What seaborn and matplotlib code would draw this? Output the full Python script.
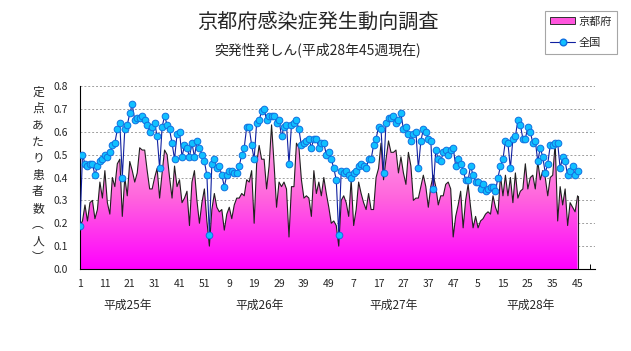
# %% ---- Requirements and constants
import numpy as np
import pandas as pd
import seaborn as sns
import matplotlib.pyplot as plt
from matplotlib.colors import LinearSegmentedColormap
from matplotlib.patches import Patch, PathPatch
from matplotlib.lines import Line2D

title = '京都府感染症発生動向調査'
subtitle = '突発性発しん(平成28年45週現在)'
ylabel_chars = ['定', '点', 'あ', 'た', 'り', '患', '者', '数', '︵', '人', '︶']
series_names = ['京都府', '全国']
year_labels = ['平成25年', '平成26年', '平成27年', '平成28年']
weeks_in_year = [52, 52, 52, 52]

# 京都府 (per sentinel), H25 w1 .. H28 w45
kyoto = [
    0.19, 0.21, 0.28, 0.21, 0.29, 0.30, 0.22, 0.26, 0.38, 0.31,
    0.43, 0.29, 0.24, 0.40, 0.36, 0.46, 0.48, 0.23, 0.40, 0.32,
    0.47, 0.43, 0.38, 0.42, 0.53, 0.52, 0.52, 0.43, 0.35, 0.35,
    0.40, 0.44, 0.31, 0.42, 0.52, 0.50, 0.40, 0.31, 0.45, 0.36,
    0.39, 0.29, 0.31, 0.34, 0.19, 0.38, 0.43, 0.30, 0.20, 0.29,
    0.35, 0.21,
    0.10, 0.26, 0.33, 0.27, 0.25, 0.26, 0.17, 0.24, 0.27, 0.22,
    0.28, 0.31, 0.31, 0.33, 0.32, 0.39, 0.38, 0.43, 0.20, 0.46,
    0.54, 0.48, 0.48, 0.35, 0.45, 0.63, 0.46, 0.27, 0.38, 0.36,
    0.38, 0.35, 0.14, 0.36, 0.36, 0.55, 0.53, 0.39, 0.31, 0.32,
    0.31, 0.23, 0.43, 0.33, 0.38, 0.32, 0.40, 0.33, 0.27, 0.20,
    0.21, 0.19,
    0.10, 0.30, 0.32, 0.29, 0.23, 0.39, 0.19, 0.26, 0.38, 0.33,
    0.29, 0.26, 0.33, 0.26, 0.26, 0.40, 0.44, 0.55, 0.39, 0.48,
    0.56, 0.51, 0.51, 0.52, 0.42, 0.49, 0.42, 0.37, 0.51, 0.45,
    0.30, 0.31, 0.31, 0.36, 0.41, 0.36, 0.27, 0.36, 0.41, 0.36,
    0.28, 0.32, 0.32, 0.37, 0.38, 0.35, 0.14, 0.23, 0.28, 0.34,
    0.18, 0.30,
    0.37, 0.27, 0.18, 0.23, 0.18, 0.21, 0.22, 0.24, 0.25, 0.24,
    0.32, 0.27, 0.24, 0.41, 0.32, 0.41, 0.32, 0.40, 0.29, 0.42,
    0.31, 0.34, 0.35, 0.46, 0.35, 0.40, 0.41, 0.35, 0.47, 0.39,
    0.43, 0.40, 0.32, 0.40, 0.41, 0.55, 0.21, 0.36, 0.28, 0.35,
    0.19, 0.29, 0.27, 0.25, 0.32,
]

# 全国 (per sentinel)
zenkoku = [
    0.19, 0.50, 0.46, 0.45, 0.46, 0.46, 0.41, 0.45, 0.47, 0.48,
    0.50, 0.49, 0.51, 0.54, 0.55, 0.61, 0.64, 0.40, 0.61, 0.63,
    0.68, 0.72, 0.65, 0.66, 0.66, 0.67, 0.65, 0.63, 0.60, 0.62,
    0.64, 0.58, 0.44, 0.62, 0.67, 0.63, 0.61, 0.55, 0.48, 0.59,
    0.60, 0.49, 0.54, 0.53, 0.49, 0.55, 0.49, 0.56, 0.53, 0.50,
    0.47, 0.41,
    0.15, 0.46, 0.48, 0.44, 0.45, 0.41, 0.36, 0.41, 0.43, 0.43,
    0.42, 0.42, 0.45, 0.50, 0.53, 0.62, 0.62, 0.54, 0.48, 0.64,
    0.65, 0.69, 0.70, 0.65, 0.67, 0.67, 0.67, 0.64, 0.65, 0.58,
    0.62, 0.63, 0.46, 0.63, 0.64, 0.65, 0.61, 0.54, 0.55, 0.56,
    0.57, 0.53, 0.57, 0.57, 0.53, 0.55, 0.55, 0.50, 0.51, 0.48,
    0.44, 0.39,
    0.15, 0.43, 0.42, 0.43, 0.41, 0.40, 0.42, 0.43, 0.45, 0.46,
    0.45, 0.44, 0.48, 0.48, 0.54, 0.57, 0.62, 0.61, 0.42, 0.64,
    0.66, 0.66, 0.67, 0.64, 0.65, 0.68, 0.61, 0.62, 0.59, 0.56,
    0.59, 0.60, 0.44, 0.56, 0.61, 0.60, 0.57, 0.56, 0.35, 0.52,
    0.48, 0.47, 0.51, 0.52, 0.50, 0.52, 0.53, 0.45, 0.48, 0.46,
    0.43, 0.39,
    0.39, 0.45, 0.41, 0.38, 0.38, 0.35, 0.37, 0.34, 0.35, 0.36,
    0.36, 0.34, 0.40, 0.45, 0.48, 0.56, 0.55, 0.44, 0.57, 0.58,
    0.65, 0.63, 0.57, 0.57, 0.62, 0.60, 0.55, 0.56, 0.47, 0.53,
    0.49, 0.42, 0.46, 0.54, 0.54, 0.55, 0.55, 0.44, 0.49, 0.47,
    0.41, 0.43, 0.45, 0.41, 0.43,
]

# year label centres, in week index units
year_label_pos = [19, 72, 126, 181]

font = ['Noto Sans CJK JP', 'DejaVu Sans']


# %% ---- Data frame
week_no = np.concatenate([np.arange(1, w + 1) for w in weeks_in_year])
n_all = len(week_no)
n = len(kyoto)
df = pd.DataFrame({'idx': np.arange(n), 'week': week_no[:n],
                   series_names[0]: kyoto, series_names[1]: zenkoku})


# %% ---- Plot
sns.set_style('white')
plt.rcParams['font.family'] = font

fig = plt.figure(figsize=(6.31, 3.51), dpi=100)
W, H = 631, 351
ax = fig.add_axes([80 / W, 1 - 269 / H, (595 - 80) / W, (269 - 86) / H])
ax.set_xlim(0, n_all - 1)
ax.set_ylim(0, 0.8)

for v in np.arange(0.1, 0.81, 0.1):
    ax.axhline(v, color='#a0a0a0', lw=0.7, ls=(0, (2, 2)), zorder=0)

# gradient area for kyoto
cmap = LinearSegmentedColormap.from_list('pk', ['#ff00ff', '#ff66dd', '#ffb0e8'])
poly = ax.fill_between(df['idx'], df[series_names[0]], 0, color='none', lw=0)
grad = np.linspace(0, 1, 256).reshape(-1, 1)
im = ax.imshow(grad, extent=[0, n - 1, 0, max(kyoto)], origin='lower',
               aspect='auto', cmap=cmap, zorder=1, interpolation='bilinear')
clip = PathPatch(poly.get_paths()[0], transform=ax.transData,
                 facecolor='none', edgecolor='none')
ax.add_patch(clip)
im.set_clip_path(clip)

sns.lineplot(data=df, x='idx', y=series_names[0], color='#202020', lw=0.8,
             ax=ax, zorder=3)
ax.plot([n - 1, n - 1], [kyoto[-1], 0], color='#202020', lw=0.8, zorder=3)

sns.lineplot(data=df, x='idx', y=series_names[1], color='#1020a0', lw=0.8,
             marker='o', markersize=4.8, markerfacecolor='#10c0ff',
             markeredgecolor='#1070e0', markeredgewidth=0.7, ax=ax, zorder=4)

ax.set_xlabel('')
ax.set_ylabel('')
for s in ['top', 'right']:
    ax.spines[s].set_visible(False)
for s in ['left', 'bottom']:
    ax.spines[s].set_color('black')
    ax.spines[s].set_linewidth(0.8)

major = np.arange(0, n_all, 10)
ax.set_xticks(major)
ax.set_xticklabels([str(week_no[i]) for i in major], fontsize=7.5)
ax.set_xticks(np.arange(0, n_all, 5), minor=True)
ax.tick_params(axis='x', which='both', direction='in', length=3.5,
               width=0.7, color='black', pad=7, bottom=True)
ax.set_yticks(np.arange(0, 0.81, 0.1))
ax.set_yticklabels([f'{v:.1f}' for v in np.arange(0, 0.81, 0.1)], fontsize=7.5)
ax.tick_params(axis='y', length=0, pad=9)

for lab, pos in zip(year_labels, year_label_pos):
    ax.text(pos, -0.16, lab, ha='center', va='center', fontsize=8.5)

for k, ch in enumerate(ylabel_chars):
    fig.text(38 / W, 1 - (92 + k * 16.6) / H, ch, ha='center', va='center',
             fontsize=8.5)

fig.text(318 / W, 1 - 22 / H, title, ha='center', va='center', fontsize=14.5)
fig.text(318 / W, 1 - 50 / H, subtitle, ha='center', va='center', fontsize=10)

handles = [Patch(facecolor='#ff55dd', edgecolor='#303030', lw=0.7),
           Line2D([], [], color='#1020a0', lw=0.8, marker='o', markersize=4.8,
                  markerfacecolor='#10c0ff', markeredgecolor='#1070e0')]
leg = fig.legend(handles, series_names, loc='upper right',
                 bbox_to_anchor=(617 / W, 1 - 11 / H), fontsize=8,
                 frameon=True, fancybox=False, edgecolor='#909090',
                 handlelength=2.2, handleheight=0.6, handletextpad=0.3,
                 borderpad=0.5, labelspacing=1.0, borderaxespad=0)
leg.get_frame().set_linewidth(0.8)

fig.savefig('out.png', dpi=100)
